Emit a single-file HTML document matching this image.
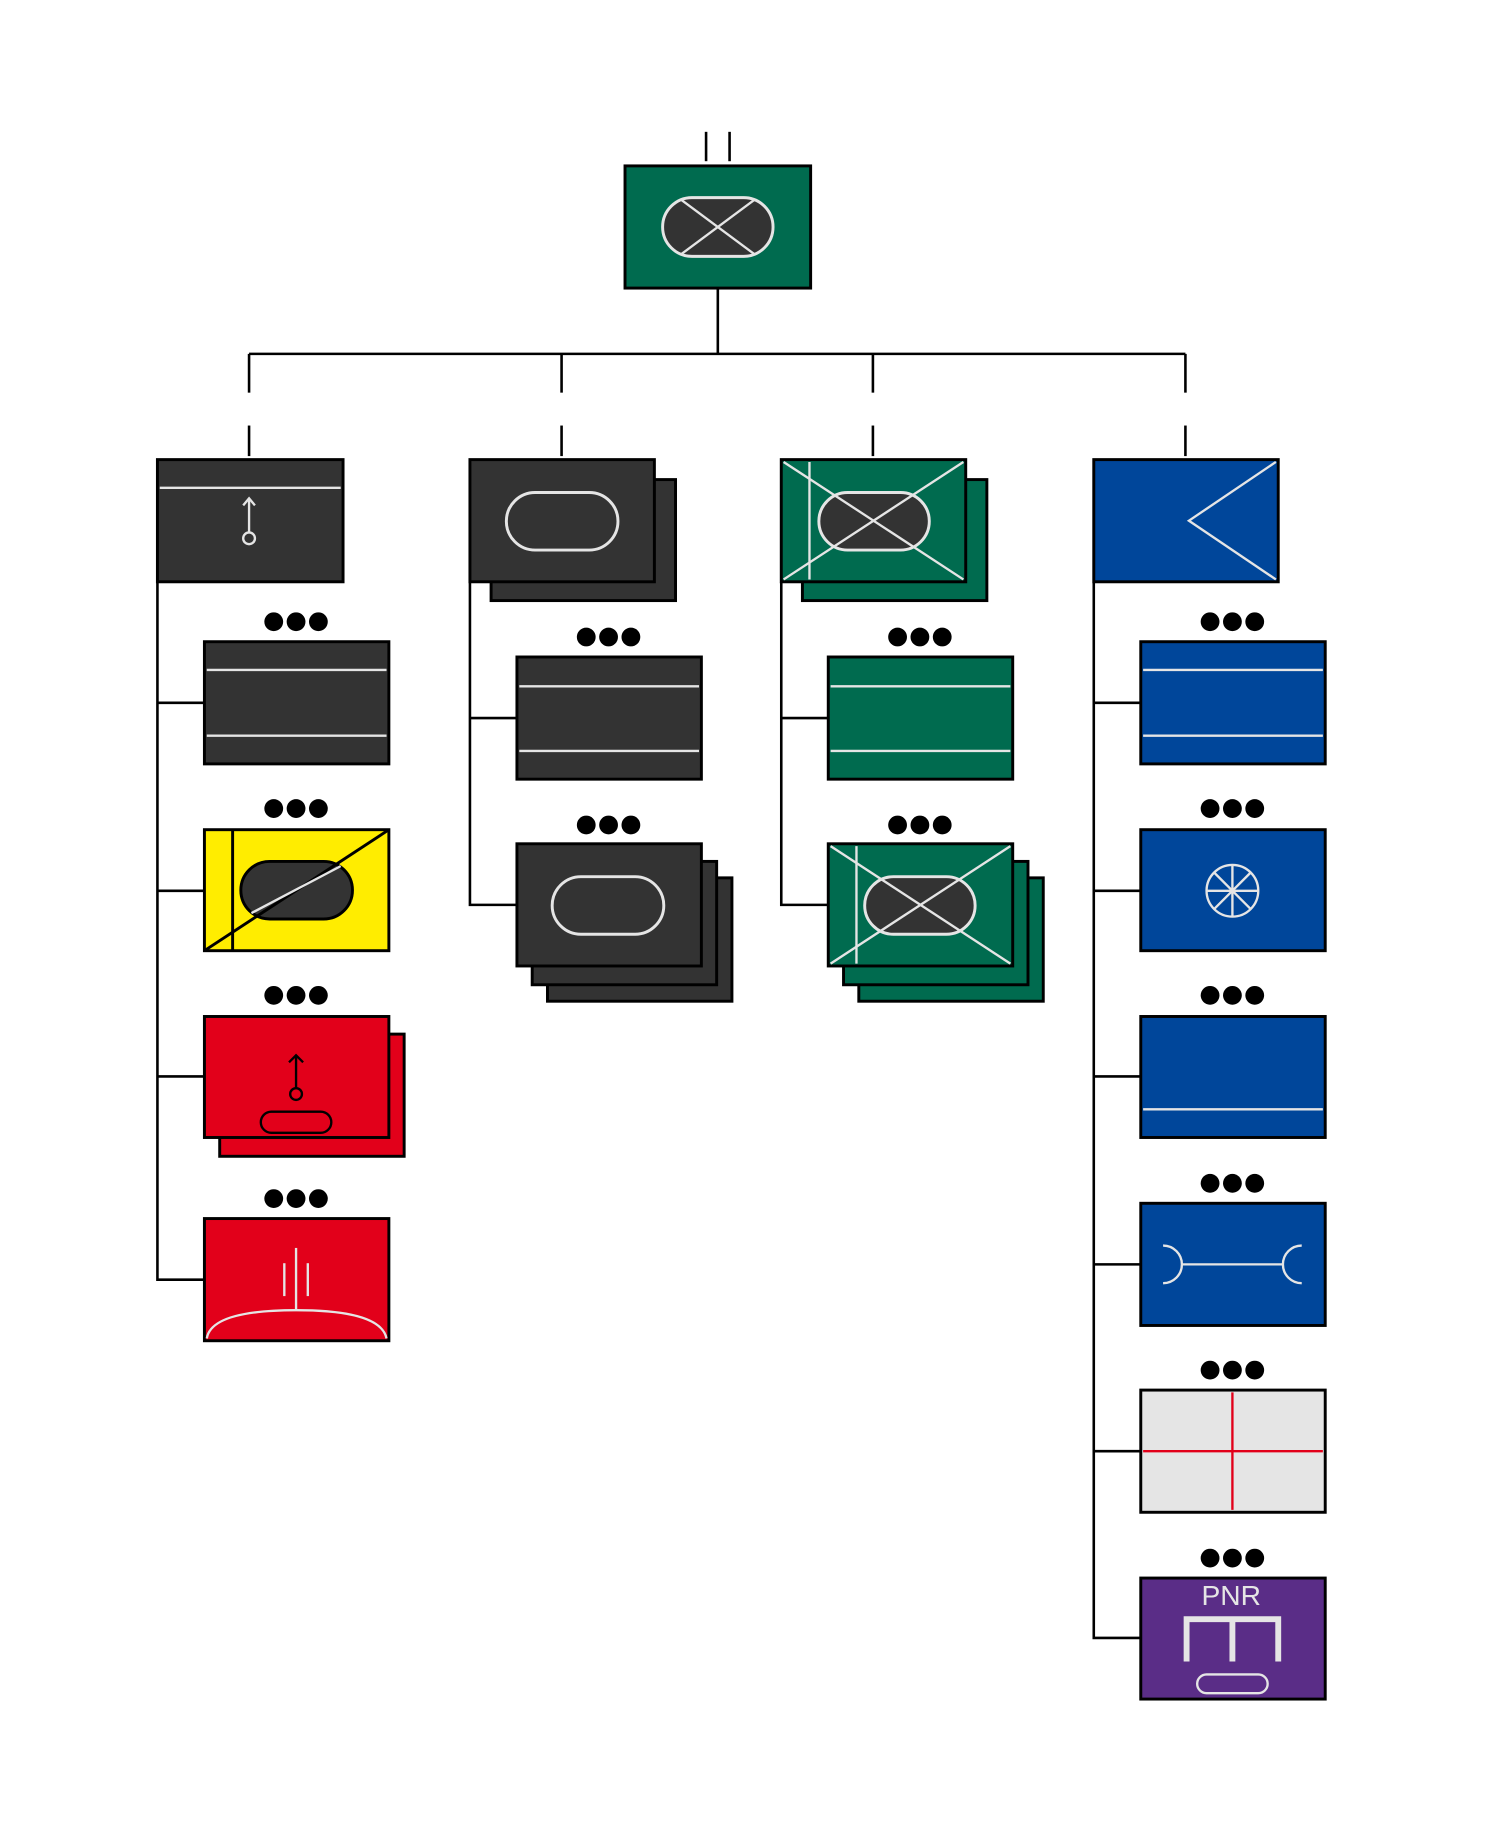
<!DOCTYPE html>
<html><head><meta charset="utf-8"><style>html,body{margin:0;padding:0;background:#fff}svg{display:block}</style></head>
<body>
<svg width="1485" height="1845" viewBox="0 0 1264 1570" xmlns="http://www.w3.org/2000/svg">
<defs>
<g id="dots"><circle cx="-19" cy="0" r="8"/><circle cx="0" cy="0" r="8"/><circle cx="19" cy="0" r="8"/></g>
</defs>
<g stroke="#000" stroke-width="2.2" fill="none">
<line x1="601" y1="112" x2="601" y2="137"/><line x1="621" y1="112" x2="621" y2="137"/>
<line x1="611" y1="245" x2="611" y2="301"/>
<line x1="212" y1="301" x2="1009" y2="301"/>
<line x1="212" y1="301" x2="212" y2="334"/><line x1="478" y1="301" x2="478" y2="334"/>
<line x1="743" y1="301" x2="743" y2="334"/><line x1="1009" y1="301" x2="1009" y2="334"/>
<line x1="212" y1="362" x2="212" y2="388"/><line x1="478" y1="362" x2="478" y2="388"/>
<line x1="743" y1="362" x2="743" y2="388"/><line x1="1009" y1="362" x2="1009" y2="388"/>
<polyline points="134,495 134,1089 174,1089"/>
<line x1="134" y1="598" x2="174" y2="598"/><line x1="134" y1="758" x2="174" y2="758"/><line x1="134" y1="916" x2="174" y2="916"/>
<polyline points="400,495 400,770 440,770"/><line x1="400" y1="611" x2="440" y2="611"/>
<polyline points="665,495 665,770 705,770"/><line x1="665" y1="611" x2="705" y2="611"/>
<polyline points="931,495 931,1394 971,1394"/>
<line x1="931" y1="598" x2="971" y2="598"/><line x1="931" y1="758" x2="971" y2="758"/><line x1="931" y1="916" x2="971" y2="916"/>
<line x1="931" y1="1076" x2="971" y2="1076"/><line x1="931" y1="1235" x2="971" y2="1235"/>
</g>
<g stroke="#000" stroke-width="2.5">
<!-- top -->
<rect x="532" y="141" width="158" height="104" fill="#006b4f"/>
<rect x="564" y="168" width="94" height="50" rx="25" fill="#333" stroke="#e5e5e5"/>
<g stroke="#e5e5e5" stroke-width="2"><line x1="580" y1="170" x2="642" y2="216"/><line x1="642" y1="170" x2="580" y2="216"/></g>
<!-- level 2 -->
<rect x="134" y="391" width="158" height="104" fill="#333"/>
<g stroke="#e5e5e5" stroke-width="2" fill="none"><line x1="136" y1="415" x2="290" y2="415"/><line x1="212" y1="424" x2="212" y2="453"/><polyline points="207,430 212,424 217,430"/><circle cx="212" cy="458" r="5"/></g>
<rect x="418" y="408" width="157" height="103" fill="#333"/>
<rect x="400" y="391" width="157" height="104" fill="#333"/>
<rect x="431" y="419" width="95" height="49" rx="24.5" fill="none" stroke="#e5e5e5"/>
<rect x="683" y="408" width="157" height="103" fill="#006b4f"/>
<rect x="665" y="391" width="157" height="104" fill="#006b4f"/>
<rect x="697" y="419" width="94" height="49" rx="24.5" fill="#333" stroke="#e5e5e5"/>
<g stroke="#e5e5e5" stroke-width="2"><line x1="667" y1="393" x2="820" y2="493"/><line x1="820" y1="393" x2="667" y2="493"/><line x1="689" y1="393" x2="689" y2="493"/></g>
<rect x="931" y="391" width="157" height="104" fill="#00469a"/>
<polyline points="1086,393 1012,443 1086,493" fill="none" stroke="#e5e5e5" stroke-width="2"/>
<!-- col1 -->
<rect x="174" y="546" width="157" height="104" fill="#333"/>
<g stroke="#e5e5e5" stroke-width="2"><line x1="176" y1="570" x2="329" y2="570"/><line x1="176" y1="626" x2="329" y2="626"/></g>
<rect x="174" y="706" width="157" height="103" fill="#ffed00"/>
<line x1="198" y1="706" x2="198" y2="809"/>
<rect x="205" y="733" width="95" height="49" rx="24.5" fill="#333"/>
<line x1="174" y1="809" x2="331" y2="706"/>
<line x1="214" y1="777" x2="290" y2="737" stroke="#e5e5e5" stroke-width="2"/>
<rect x="187" y="880" width="157" height="104" fill="#e2001a"/>
<rect x="174" y="865" width="157" height="103" fill="#e2001a"/>
<g fill="none" stroke-width="2"><line x1="252" y1="898" x2="252" y2="926"/><polyline points="246,904 252,898 258,904"/><circle cx="252" cy="931" r="5"/><rect x="222" y="946" width="60" height="18" rx="9"/></g>
<rect x="174" y="1037" width="157" height="104" fill="#e2001a"/>
<g stroke="#e5e5e5" stroke-width="2" fill="none"><line x1="252" y1="1062" x2="252" y2="1115"/><line x1="242" y1="1075" x2="242" y2="1103"/><line x1="262" y1="1075" x2="262" y2="1103"/><path d="M176,1139 Q180,1115 252,1115 Q324,1115 329,1139"/></g>
<!-- col2 -->
<rect x="440" y="559" width="157" height="104" fill="#333"/>
<g stroke="#e5e5e5" stroke-width="2"><line x1="442" y1="584" x2="595" y2="584"/><line x1="442" y1="639" x2="595" y2="639"/></g>
<rect x="466" y="747" width="157" height="105" fill="#333"/>
<rect x="453" y="733" width="157" height="105" fill="#333"/>
<rect x="440" y="718" width="157" height="104" fill="#333"/>
<rect x="470" y="746" width="95" height="49" rx="24.5" fill="none" stroke="#e5e5e5"/>
<!-- col3 -->
<rect x="705" y="559" width="157" height="104" fill="#006b4f"/>
<g stroke="#e5e5e5" stroke-width="2"><line x1="707" y1="584" x2="860" y2="584"/><line x1="707" y1="639" x2="860" y2="639"/></g>
<rect x="731" y="747" width="157" height="105" fill="#006b4f"/>
<rect x="718" y="733" width="157" height="105" fill="#006b4f"/>
<rect x="705" y="718" width="157" height="104" fill="#006b4f"/>
<rect x="736" y="746" width="94" height="49" rx="24.5" fill="#333" stroke="#e5e5e5"/>
<g stroke="#e5e5e5" stroke-width="2"><line x1="707" y1="720" x2="860" y2="820"/><line x1="860" y1="720" x2="707" y2="820"/><line x1="729" y1="720" x2="729" y2="820"/></g>
<!-- col4 -->
<rect x="971" y="546" width="157" height="104" fill="#00469a"/>
<g stroke="#e5e5e5" stroke-width="2"><line x1="973" y1="570" x2="1126" y2="570"/><line x1="973" y1="626" x2="1126" y2="626"/></g>
<rect x="971" y="706" width="157" height="103" fill="#00469a"/>
<g stroke="#e5e5e5" stroke-width="2" fill="none"><circle cx="1049" cy="758" r="22"/><line x1="1027" y1="758" x2="1071" y2="758"/><line x1="1049" y1="736" x2="1049" y2="780"/><line x1="1033" y1="742" x2="1065" y2="774"/><line x1="1065" y1="742" x2="1033" y2="774"/></g>
<rect x="971" y="865" width="157" height="103" fill="#00469a"/>
<line x1="973" y1="944" x2="1126" y2="944" stroke="#e5e5e5" stroke-width="2"/>
<rect x="971" y="1024" width="157" height="104" fill="#00469a"/>
<g stroke="#e5e5e5" stroke-width="2" fill="none"><line x1="1006" y1="1076" x2="1092" y2="1076"/><path d="M990,1060 A16,16 0 0 1 990,1092"/><path d="M1108,1060 A16,16 0 0 0 1108,1092"/></g>
<rect x="971" y="1183" width="157" height="104" fill="#e5e5e5"/>
<g stroke="#e2001a" stroke-width="2"><line x1="1049" y1="1185" x2="1049" y2="1285"/><line x1="973" y1="1235" x2="1126" y2="1235"/></g>
<rect x="971" y="1343" width="157" height="103" fill="#5a2d87"/>
<g stroke="#e5e5e5" fill="none"><polyline points="1010,1414 1010,1378 1088,1378 1088,1414" stroke-width="5"/><line x1="1049" y1="1378" x2="1049" y2="1414" stroke-width="5"/><rect x="1019" y="1425" width="60" height="16" rx="8" stroke-width="2"/></g>
</g>
<text x="1048" y="1366" fill="#e5e5e5" font-family="Liberation Sans, sans-serif" font-size="24" text-anchor="middle">PNR</text>
<g fill="#000">
<use href="#dots" x="252" y="529"/><use href="#dots" x="252" y="688"/><use href="#dots" x="252" y="847"/><use href="#dots" x="252" y="1020"/>
<use href="#dots" x="518" y="542"/><use href="#dots" x="518" y="702"/>
<use href="#dots" x="783" y="542"/><use href="#dots" x="783" y="702"/>
<use href="#dots" x="1049" y="529"/><use href="#dots" x="1049" y="688"/><use href="#dots" x="1049" y="847"/><use href="#dots" x="1049" y="1007"/><use href="#dots" x="1049" y="1166"/><use href="#dots" x="1049" y="1326"/>
</g>
</svg>
</body></html>
